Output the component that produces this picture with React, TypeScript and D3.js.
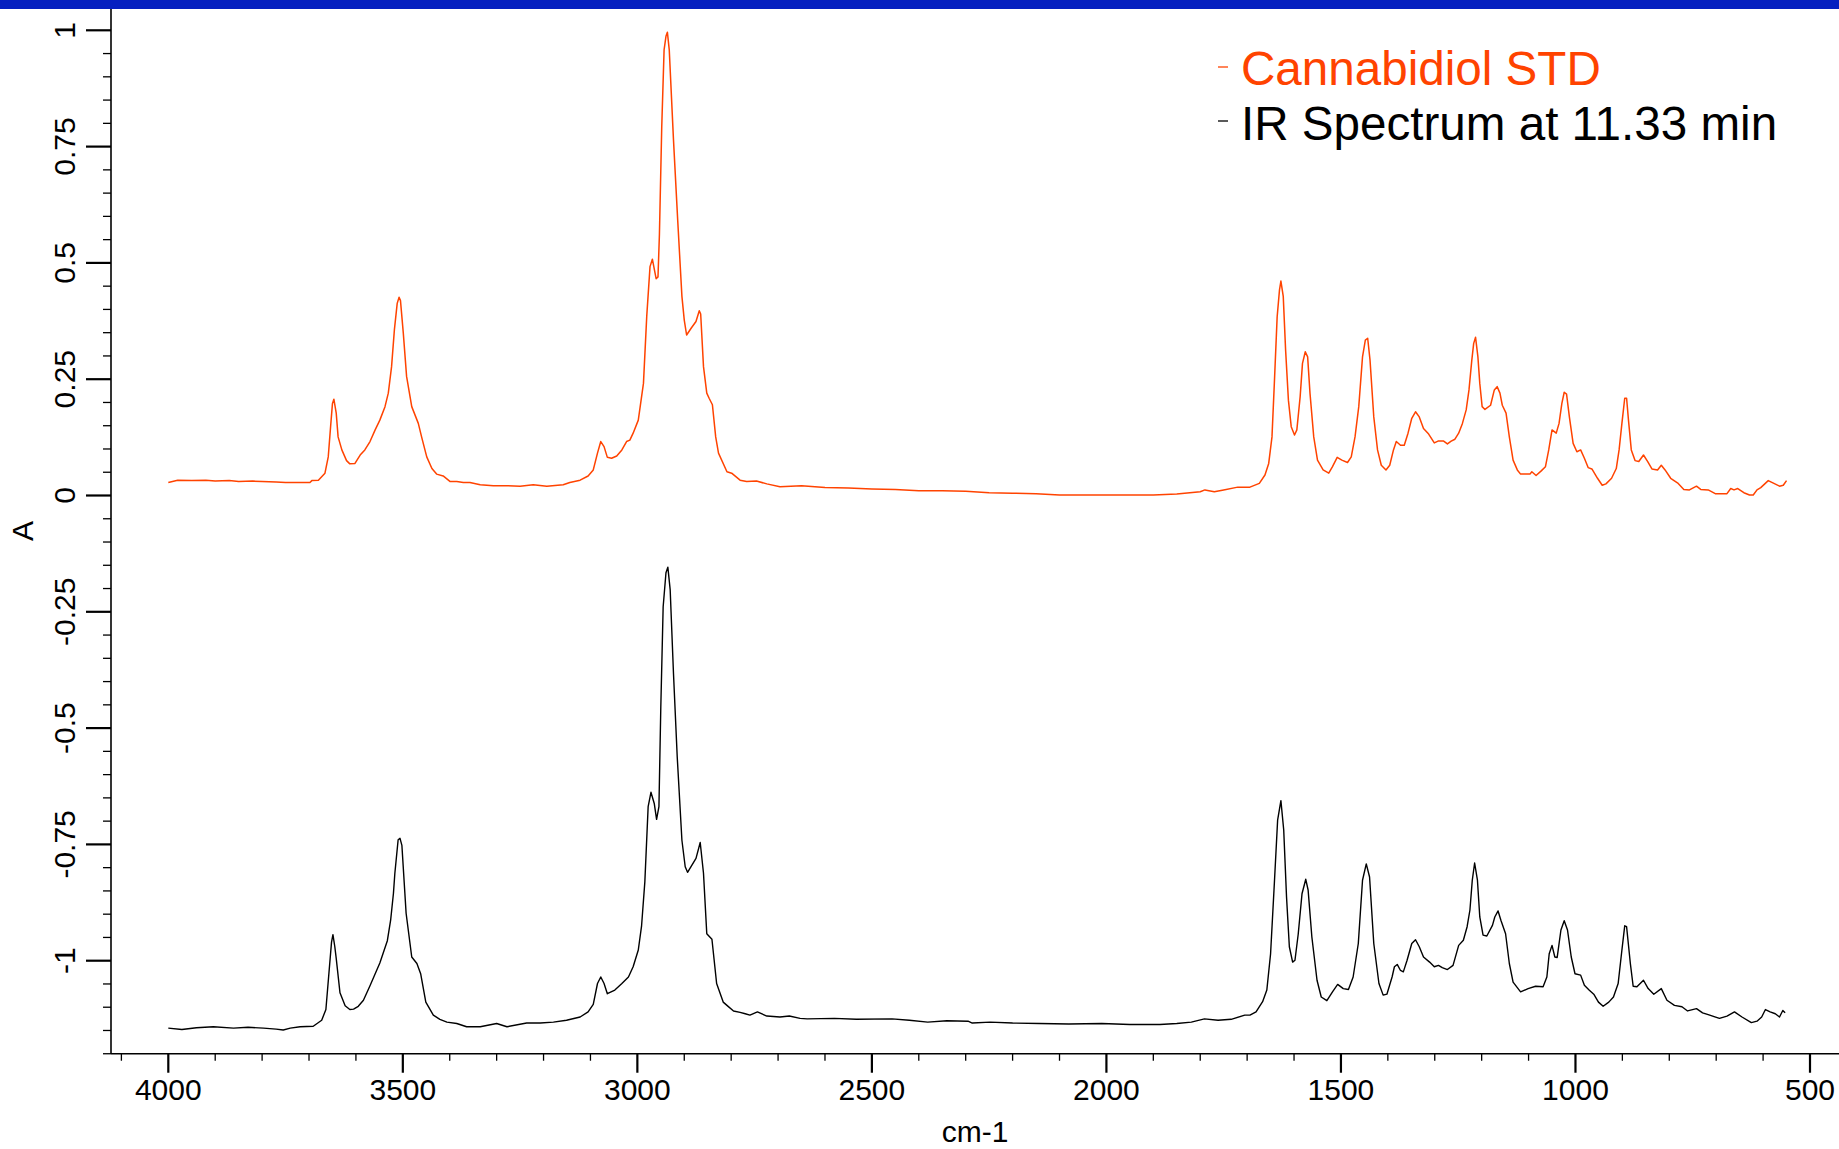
import React from 'react';
import * as d3 from 'd3';

// Cannabidiol STD spectrum (wavenumber cm-1, absorbance)
const cbdWavenumber = [4000,3980,3950,3920,3900,3870,3850,3820,3800,3770,3750,3719,3698,3694,3680,3666,3659,3654,3650,3647,3642,3638,3630,3620,3613,3602,3591,3581,3570,3559,3549,3538,3531,3524,3518,3512,3508,3505,3499,3492,3481,3467,3460,3449,3438,3428,3414,3399,3385,3371,3357,3335,3307,3279,3250,3222,3193,3158,3144,3122,3105,3094,3085,3078,3071,3064,3055,3044,3033,3023,3016,3009,2998,2987,2980,2973,2968,2960,2956,2953,2948,2943,2939,2936,2932,2923,2914,2905,2900,2895,2885,2875,2868,2865,2859,2852,2847,2840,2833,2827,2809,2799,2781,2767,2746,2724,2696,2650,2600,2550,2500,2450,2400,2350,2300,2250,2200,2150,2100,2050,2000,1950,1900,1850,1800,1790,1770,1750,1720,1694,1674,1662,1654,1647,1642,1636,1631,1628,1623,1618,1612,1606,1599,1594,1587,1582,1576,1571,1566,1558,1550,1538,1526,1518,1508,1498,1486,1478,1470,1462,1454,1448,1443,1438,1430,1422,1414,1404,1396,1388,1382,1373,1365,1357,1349,1341,1333,1324,1313,1301,1293,1281,1273,1265,1257,1249,1241,1233,1227,1221,1217,1213,1208,1204,1199,1193,1181,1173,1167,1161,1156,1148,1141,1133,1124,1117,1097,1093,1084,1073,1064,1057,1050,1041,1035,1029,1024,1019,1013,1005,997,989,981,973,965,953,943,935,923,913,907,901,895,891,887,881,873,865,855,846,837,825,817,809,797,781,769,757,742,733,717,702,677,669,662,654,641,629,621,613,605,589,577,565,557,550];
const cbdAbsorbance = [0.028,0.033,0.032,0.033,0.031,0.032,0.030,0.031,0.030,0.029,0.028,0.028,0.028,0.032,0.033,0.048,0.083,0.148,0.198,0.207,0.177,0.126,0.098,0.075,0.068,0.069,0.087,0.098,0.116,0.141,0.162,0.191,0.220,0.277,0.356,0.413,0.426,0.419,0.349,0.256,0.191,0.155,0.126,0.083,0.058,0.046,0.042,0.030,0.030,0.028,0.028,0.023,0.021,0.021,0.020,0.023,0.020,0.023,0.028,0.033,0.042,0.055,0.091,0.116,0.105,0.082,0.080,0.085,0.098,0.116,0.119,0.134,0.162,0.241,0.385,0.492,0.508,0.466,0.470,0.560,0.793,0.958,0.987,0.996,0.958,0.765,0.592,0.428,0.377,0.345,0.360,0.374,0.397,0.390,0.277,0.220,0.209,0.195,0.126,0.091,0.051,0.048,0.033,0.030,0.031,0.025,0.019,0.021,0.017,0.016,0.014,0.013,0.010,0.010,0.009,0.006,0.005,0.004,0.001,0.001,0.001,0.001,0.001,0.003,0.008,0.012,0.008,0.012,0.018,0.018,0.026,0.044,0.069,0.126,0.241,0.384,0.442,0.461,0.428,0.313,0.205,0.148,0.130,0.141,0.212,0.284,0.309,0.298,0.220,0.126,0.076,0.055,0.048,0.062,0.082,0.076,0.071,0.083,0.126,0.191,0.298,0.334,0.338,0.291,0.169,0.098,0.065,0.055,0.065,0.098,0.116,0.108,0.108,0.134,0.166,0.180,0.169,0.144,0.132,0.113,0.117,0.117,0.111,0.117,0.121,0.134,0.155,0.184,0.227,0.291,0.327,0.340,0.298,0.241,0.191,0.185,0.194,0.227,0.234,0.220,0.194,0.177,0.126,0.076,0.055,0.046,0.046,0.051,0.043,0.053,0.062,0.098,0.141,0.134,0.155,0.198,0.222,0.218,0.169,0.112,0.094,0.098,0.080,0.060,0.057,0.037,0.022,0.025,0.037,0.058,0.098,0.155,0.209,0.209,0.162,0.098,0.075,0.073,0.087,0.073,0.057,0.055,0.065,0.055,0.037,0.026,0.013,0.012,0.020,0.013,0.012,0.004,0.004,0.015,0.012,0.015,0.006,0.001,0.001,0.012,0.017,0.032,0.026,0.020,0.022,0.032];

// IR Spectrum at 11.33 min
const irWavenumber = [4000,3971,3940,3904,3861,3830,3797,3770,3755,3740,3719,3691,3673,3664,3657,3652,3649,3645,3642,3634,3623,3613,3605,3595,3584,3570,3561,3549,3533,3526,3520,3517,3510,3506,3502,3493,3481,3470,3462,3451,3435,3421,3406,3385,3364,3335,3300,3278,3236,3207,3179,3151,3122,3105,3094,3085,3078,3071,3064,3048,3033,3019,3009,2998,2991,2984,2977,2971,2964,2959,2954,2950,2945,2939,2935,2930,2923,2915,2905,2898,2893,2884,2875,2866,2859,2852,2841,2831,2817,2809,2795,2781,2770,2760,2744,2724,2696,2676,2653,2638,2580,2533,2457,2420,2381,2340,2295,2286,2248,2200,2143,2080,2010,1950,1886,1850,1819,1791,1762,1734,1705,1694,1681,1667,1658,1650,1642,1635,1628,1622,1616,1610,1603,1598,1591,1583,1575,1570,1562,1551,1542,1530,1518,1507,1495,1484,1474,1463,1454,1446,1439,1430,1419,1410,1402,1391,1386,1380,1373,1367,1359,1349,1341,1333,1324,1311,1301,1292,1284,1273,1261,1249,1239,1231,1225,1220,1215,1209,1204,1197,1189,1177,1172,1165,1159,1149,1141,1133,1117,1101,1085,1069,1061,1056,1050,1044,1039,1031,1024,1017,1009,1001,989,981,971,961,951,941,929,919,909,901,895,891,883,877,869,855,845,833,817,805,789,773,761,742,729,717,693,677,661,645,625,613,603,595,585,574,565,558,553];
const irAbsorbance = [-1.145,-1.148,-1.144,-1.142,-1.145,-1.143,-1.145,-1.147,-1.149,-1.145,-1.142,-1.141,-1.128,-1.105,-1.02,-0.96,-0.944,-0.97,-0.995,-1.069,-1.097,-1.105,-1.104,-1.098,-1.085,-1.054,-1.033,-1.005,-0.957,-0.913,-0.855,-0.812,-0.740,-0.737,-0.752,-0.898,-0.992,-1.006,-1.028,-1.089,-1.117,-1.126,-1.132,-1.135,-1.142,-1.142,-1.135,-1.142,-1.134,-1.134,-1.132,-1.128,-1.121,-1.110,-1.094,-1.049,-1.035,-1.049,-1.071,-1.063,-1.049,-1.035,-1.013,-0.977,-0.925,-0.83,-0.669,-0.638,-0.662,-0.696,-0.669,-0.454,-0.239,-0.166,-0.154,-0.203,-0.382,-0.562,-0.741,-0.798,-0.810,-0.795,-0.780,-0.746,-0.812,-0.942,-0.954,-1.049,-1.089,-1.096,-1.108,-1.111,-1.114,-1.117,-1.110,-1.119,-1.121,-1.119,-1.124,-1.125,-1.124,-1.126,-1.125,-1.128,-1.132,-1.129,-1.130,-1.134,-1.132,-1.134,-1.135,-1.136,-1.135,-1.137,-1.137,-1.135,-1.132,-1.125,-1.128,-1.126,-1.117,-1.117,-1.110,-1.088,-1.063,-0.985,-0.834,-0.698,-0.656,-0.719,-0.863,-0.970,-1.003,-0.999,-0.942,-0.856,-0.825,-0.848,-0.949,-1.042,-1.078,-1.086,-1.067,-1.051,-1.060,-1.062,-1.035,-0.963,-0.827,-0.792,-0.820,-0.963,-1.049,-1.074,-1.072,-1.035,-1.013,-1.008,-1.021,-1.024,-0.999,-0.963,-0.955,-0.970,-0.992,-1.003,-1.013,-1.010,-1.015,-1.019,-1.010,-0.967,-0.956,-0.927,-0.891,-0.827,-0.790,-0.827,-0.906,-0.945,-0.947,-0.924,-0.906,-0.893,-0.913,-0.942,-1.006,-1.046,-1.067,-1.060,-1.055,-1.056,-1.035,-0.985,-0.967,-0.992,-0.993,-0.934,-0.914,-0.934,-0.992,-1.028,-1.031,-1.053,-1.063,-1.072,-1.089,-1.098,-1.089,-1.078,-1.049,-0.977,-0.925,-0.927,-1.006,-1.055,-1.056,-1.042,-1.060,-1.072,-1.060,-1.085,-1.096,-1.099,-1.108,-1.103,-1.112,-1.116,-1.124,-1.119,-1.110,-1.121,-1.133,-1.130,-1.121,-1.105,-1.110,-1.114,-1.121,-1.107,-1.112];

const xMajorTicks = [4000, 3500, 3000, 2500, 2000, 1500, 1000, 500];
const yMajorTicks = [1, 0.75, 0.5, 0.25, 0, -0.25, -0.5, -0.75, -1];
const seriesNames = ['Cannabidiol STD', 'IR Spectrum at 11.33 min'];
const seriesColors = ['#FF4300', '#000000'];
const xTitle = 'cm-1';
const yTitle = 'A';

export default function App() {
  const W = 1839;
  const H = 1149;
  const x = d3.scaleLinear().domain([4000, 500]).range([168.3, 1810]);
  const y = d3.scaleLinear().domain([1, -1]).range([30.3, 960.7]);
  const axisX = 111;
  const axisY = y(-1.2);
  const font = "'Liberation Sans', Arial, Helvetica, sans-serif";

  const line = d3.line<[number, number]>().x(d => x(d[0])).y(d => y(d[1]));
  const cbdPath = line(cbdWavenumber.map((w, i) => [w, cbdAbsorbance[i]] as [number, number])) || '';
  const irPath = line(irWavenumber.map((w, i) => [w, irAbsorbance[i]] as [number, number])) || '';

  const xMinor = d3.range(4100, 399, -100).filter(v => v % 500 !== 0 && x(v) >= axisX && x(v) <= W);
  const yMinor = d3.range(-24, 22).map(k => k * 0.05).filter(v => Math.abs(Math.round(v * 100) % 25) !== 0 && y(v) >= 9 && y(v) <= axisY);

  return (
    <svg width={W} height={H} style={{ position: 'absolute', left: 0, top: 0, background: '#fff' }} fontFamily={font}>
      <rect x={0} y={0} width={W} height={H} fill="#fff" />
      {/* axes */}
      <line x1={axisX} x2={axisX} y1={0} y2={axisY} stroke="#000" strokeWidth={1.6} />
      <line x1={axisX} x2={W} y1={axisY} y2={axisY} stroke="#000" strokeWidth={1.6} />
      {yMajorTicks.map(v => (
        <g key={'ym' + v}>
          <line x1={axisX - 25} x2={axisX} y1={y(v)} y2={y(v)} stroke="#000" strokeWidth={2.2} />
          <text transform={`translate(75,${y(v)}) rotate(-90)`} textAnchor="middle" fontSize={30} fill="#000">{String(v)}</text>
        </g>
      ))}
      {yMinor.map(v => (
        <line key={'yn' + v} x1={axisX - 8} x2={axisX} y1={y(v)} y2={y(v)} stroke="#000" strokeWidth={1.3} />
      ))}
      {xMajorTicks.map(v => (
        <g key={'xm' + v}>
          <line x1={x(v)} x2={x(v)} y1={axisY} y2={axisY + 19} stroke="#000" strokeWidth={2.2} />
          <text x={x(v)} y={1100} textAnchor="middle" fontSize={30} fill="#000">{String(v)}</text>
        </g>
      ))}
      {xMinor.map(v => (
        <line key={'xn' + v} x1={x(v)} x2={x(v)} y1={axisY} y2={axisY + 7} stroke="#000" strokeWidth={1.3} />
      ))}
      <text x={(axisX + W) / 2} y={1142} textAnchor="middle" fontSize={30} fill="#000">{xTitle}</text>
      <text transform={`translate(33,531) rotate(-90)`} textAnchor="middle" fontSize={30} fill="#000">{yTitle}</text>

      {/* spectra */}
      <path d={cbdPath} fill="none" stroke={seriesColors[0]} strokeWidth={1.5} strokeLinejoin="round" />
      <path d={irPath} fill="none" stroke={seriesColors[1]} strokeWidth={1.4} strokeLinejoin="round" />

      {/* legend */}
      {seriesNames.map((name, i) => (
        <g key={name}>
          <line x1={1218} x2={1228} y1={67 + i * 54} y2={67 + i * 54} stroke={seriesColors[i]} strokeWidth={1.3} />
          <text x={1241} y={85 + i * 55} fontSize={47.6} fill={seriesColors[i]}>{name}</text>
        </g>
      ))}

      {/* top banner */}
      <rect x={0} y={0} width={W} height={9} fill="#0520C0" />
    </svg>
  );
}
